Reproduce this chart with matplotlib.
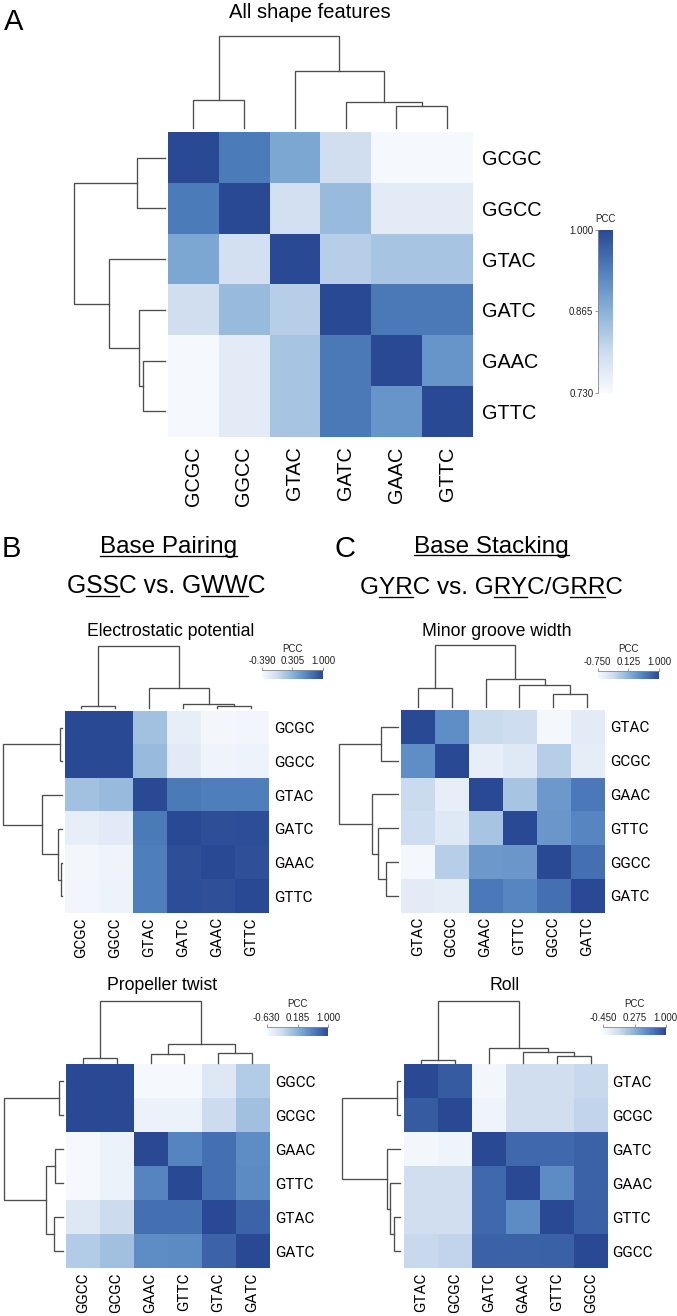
import numpy as np
import matplotlib
matplotlib.use("Agg")
import matplotlib.pyplot as plt
from matplotlib.colors import LinearSegmentedColormap, Normalize
from matplotlib.cm import ScalarMappable
from matplotlib.lines import Line2D

plt.rcParams['font.family'] = ['Liberation Sans', 'DejaVu Sans']

# ------------------------------------------------------------------ data
# Panel A: all shape features
a_labels = ['GCGC', 'GGCC', 'GTAC', 'GATC', 'GAAC', 'GTTC']
a_pcc = [
    [1.000, 0.938, 0.879, 0.792, 0.733, 0.733],
    [0.938, 1.000, 0.789, 0.852, 0.762, 0.762],
    [0.879, 0.789, 1.000, 0.819, 0.835, 0.835],
    [0.792, 0.852, 0.819, 1.000, 0.940, 0.940],
    [0.733, 0.762, 0.835, 0.940, 1.000, 0.905],
    [0.733, 0.762, 0.835, 0.940, 0.905, 1.000],
]
a_range = [0.730, 1.000]
a_merges = [(0, 1, 0.307), (4, 5, 0.245), (3, 7, 0.288), (2, 8, 0.62), (6, 9, 1.0)]

# Panel B: electrostatic potential
ep_labels = ['GCGC', 'GGCC', 'GTAC', 'GATC', 'GAAC', 'GTTC']
ep_pcc = [
    [1.00, 0.99, 0.18, -0.25, -0.36, -0.35],
    [0.99, 1.00, 0.23, -0.21, -0.32, -0.31],
    [0.18, 0.23, 1.00, 0.69, 0.66, 0.66],
    [-0.25, -0.21, 0.69, 1.00, 0.96, 0.97],
    [-0.36, -0.32, 0.66, 0.96, 1.00, 0.95],
    [-0.35, -0.31, 0.66, 0.97, 0.95, 1.00],
]
ep_range = [-0.390, 1.000]
ep_merges = [(0, 1, 0.04), (4, 5, 0.025), (3, 7, 0.07), (2, 8, 0.33), (6, 9, 1.0)]

# Panel B: propeller twist
pt_labels = ['GGCC', 'GCGC', 'GAAC', 'GTTC', 'GTAC', 'GATC']
pt_pcc = [
    [1.00, 0.99, -0.61, -0.61, -0.39, -0.06],
    [0.99, 1.00, -0.52, -0.52, -0.22, 0.04],
    [-0.61, -0.52, 1.00, 0.55, 0.71, 0.49],
    [-0.61, -0.52, 0.55, 1.00, 0.71, 0.50],
    [-0.39, -0.22, 0.71, 0.71, 1.00, 0.80],
    [-0.06, 0.04, 0.49, 0.50, 0.80, 1.00],
]
pt_range = [-0.630, 1.000]
pt_merges = [(0, 1, 0.07), (2, 3, 0.14), (4, 5, 0.15), (7, 8, 0.30), (6, 9, 1.0)]

# Panel C: minor groove width
mgw_labels = ['GTAC', 'GCGC', 'GAAC', 'GTTC', 'GGCC', 'GATC']
mgw_pcc = [
    [1.00, 0.44, -0.30, -0.33, -0.72, -0.54],
    [0.44, 1.00, -0.58, -0.51, -0.17, -0.56],
    [-0.30, -0.58, 1.00, -0.07, 0.35, 0.62],
    [-0.33, -0.51, -0.07, 1.00, 0.36, 0.51],
    [-0.72, -0.17, 0.35, 0.36, 1.00, 0.69],
    [-0.54, -0.56, 0.62, 0.51, 0.69, 1.00],
]
mgw_range = [-0.750, 1.000]
mgw_merges = [(0, 1, 0.30), (4, 5, 0.21), (3, 7, 0.35), (2, 8, 0.45), (6, 9, 1.0)]

# Panel C: roll
roll_labels = ['GTAC', 'GCGC', 'GATC', 'GAAC', 'GTTC', 'GGCC']
roll_pcc = [
    [1.00, 0.88, -0.42, -0.12, -0.12, -0.07],
    [0.88, 1.00, -0.38, -0.12, -0.12, -0.02],
    [-0.42, -0.38, 1.00, 0.78, 0.78, 0.83],
    [-0.12, -0.12, 0.78, 1.00, 0.55, 0.83],
    [-0.12, -0.12, 0.78, 0.55, 1.00, 0.84],
    [-0.07, -0.02, 0.83, 0.83, 0.84, 1.00],
]
roll_range = [-0.450, 1.000]
roll_merges = [(0, 1, 0.043), (4, 5, 0.108), (3, 7, 0.167), (2, 8, 0.23), (6, 9, 1.0)]

# ------------------------------------------------------------------ style
W, H, DPI = 677, 1316, 100
cmap = LinearSegmentedColormap.from_list(
    'pcc', ['#F7FAFE', '#CDDCEF', '#8AB2D9', '#5080BE', '#2A4994'])
DENDRO_COLOR = '#4d4d4d'
NARROW = ['Roboto', 'Liberation Sans', 'DejaVu Sans']
REGULAR = ['Liberation Sans', 'DejaVu Sans']

fig = plt.figure(figsize=(W / DPI, H / DPI), dpi=DPI)


def px_axes(x0, y0, x1, y1):
    return fig.add_axes([x0 / W, 1 - y1 / H, (x1 - x0) / W, (y1 - y0) / H])


def draw_dendro(box, merges, n, orient):
    ax = px_axes(*box)
    pos = [i + 0.5 for i in range(n)]
    hts = [0.0] * n
    for a, b, h in merges:
        xs = [pos[a], pos[a], pos[b], pos[b]]
        ys = [hts[a], h, h, hts[b]]
        if orient == 'top':
            ax.plot(xs, ys, color=DENDRO_COLOR, lw=0.95, clip_on=False,
                    solid_joinstyle='miter')
        else:
            ax.plot(ys, xs, color=DENDRO_COLOR, lw=0.95, clip_on=False,
                    solid_joinstyle='miter')
        pos.append((pos[a] + pos[b]) / 2)
        hts.append(h)
    if orient == 'top':
        ax.set_xlim(0, n)
        ax.set_ylim(0, 1)
    else:
        ax.set_ylim(n, 0)
        ax.set_xlim(1, 0)
    ax.axis('off')


def draw_heatmap(box, mat, labels, vr, fam, size, ypad, xpad):
    ax = px_axes(*box)
    m = np.array(mat)
    n = len(labels)
    ax.imshow(m, cmap=cmap, vmin=vr[0], vmax=vr[1], aspect='auto',
              interpolation='nearest', extent=(0, n, n, 0))
    ax.set_xticks(np.arange(n) + 0.5)
    ax.set_xticklabels(labels, rotation=90, fontsize=size, family=fam)
    ax.yaxis.tick_right()
    ax.set_yticks(np.arange(n) + 0.5)
    ax.set_yticklabels(labels, fontsize=size, family=fam)
    ax.tick_params(axis='y', length=0, pad=ypad)
    ax.tick_params(axis='x', length=0, pad=xpad)
    for s in ax.spines.values():
        s.set_visible(False)
    return ax


def draw_cbar(box, vr, orient, pcc_xy):
    cax = px_axes(*box)
    norm = Normalize(vmin=vr[0], vmax=vr[1])
    sm = ScalarMappable(norm=norm, cmap=cmap)
    ticks = [vr[0], (vr[0] + vr[1]) / 2, vr[1]]
    cb = fig.colorbar(sm, cax=cax, orientation=orient, ticks=ticks)
    cb.outline.set_visible(False)
    cb.set_ticklabels(['%.3f' % t for t in ticks])
    if orient == 'horizontal':
        cax.xaxis.set_ticks_position('top')
        cax.spines['top'].set_visible(True)
        cax.spines['top'].set_color('#8a8a8a')
        cax.spines['top'].set_linewidth(0.6)
        cax.tick_params(axis='x', direction='out', length=2.2, width=0.6,
                        color='#8a8a8a', labelsize=7, pad=0.6,
                        labelcolor='#222222')
    else:
        cax.yaxis.set_ticks_position('left')
        cax.spines['left'].set_visible(True)
        cax.spines['left'].set_color('#8a8a8a')
        cax.spines['left'].set_linewidth(0.6)
        cax.tick_params(axis='y', direction='out', length=2.2, width=0.6,
                        color='#8a8a8a', labelsize=7, pad=1.4,
                        labelcolor='#222222')
    fig.text(pcc_xy[0] / W, 1 - pcc_xy[1] / H, 'PCC', ha='center',
             va='center', fontsize=7, color='#222222')


def text_px(x, y, s, **kw):
    return fig.text(x / W, 1 - y / H, s, **kw)


renderer = fig.canvas.get_renderer()


def text_width(s, size):
    t = fig.text(0, 0, s, fontsize=size, family=REGULAR)
    w = t.get_window_extent(renderer).width
    t.remove()
    return w


def underlined(cx, base_y, s, size, spans):
    text_px(cx, base_y, s, ha='center', va='baseline', fontsize=size,
            family=REGULAR)
    total = text_width(s, size)
    x_left = cx - total / 2
    uy = 1 - (base_y + 2.7) / H
    for i, j in spans:
        x0 = x_left + (text_width(s[:i], size) if i > 0 else 0)
        x1 = x_left + text_width(s[:j], size)
        fig.add_artist(Line2D([x0 / W, x1 / W], [uy, uy],
                              transform=fig.transFigure, color='black',
                              lw=0.95))


# ------------------------------------------------------------------ panel A
text_px(4, 30, 'A', fontsize=21, va='baseline', ha='left')
text_px(310, 17.5, 'All shape features', fontsize=14.5, va='baseline',
        ha='center')
draw_heatmap((167.7, 132.3, 472.7, 436.7), a_pcc, a_labels, a_range,
             REGULAR, 14.3, 6.5, 7.2)
draw_dendro((167.7, 36, 472.7, 128.3), a_merges, 6, 'top')
draw_dendro((74.3, 132.3, 165, 436.7), a_merges, 6, 'left')
draw_cbar((598.3, 230, 612.7, 392.7), a_range, 'vertical', (605.5, 219.3))

# ------------------------------------------------------------------ headers
text_px(2, 557, 'B', fontsize=21, va='baseline', ha='left')
text_px(334.5, 556.7, 'C', fontsize=21, va='baseline', ha='left')
underlined(168.2, 553.3, 'Base Pairing', 17.5, [(0, 12)])
underlined(491.7, 552.7, 'Base Stacking', 17.5, [(0, 13)])
underlined(166.3, 593, 'GSSC vs. GWWC', 17.7, [(1, 3), (10, 12)])
underlined(491.3, 594, 'GYRC vs. GRYC/GRRC', 17.5, [(1, 3), (10, 12), (15, 17)])

# ------------------------------------------------------------------ panel B
text_px(170.8, 636, 'Electrostatic potential', fontsize=12.7,
        va='baseline', ha='center')
draw_heatmap((64.5, 710.7, 268.3, 913.3), ep_pcc, ep_labels, ep_range,
             NARROW, 11.0, 4.2, 2.8)
draw_dendro((64.5, 646, 268.3, 708), ep_merges, 6, 'top')
draw_dendro((2.7, 710.7, 62, 913.3), ep_merges, 6, 'left')
draw_cbar((262, 670, 323, 679.3), ep_range, 'horizontal', (292.5, 649.3))

text_px(161.7, 990, 'Propeller twist', fontsize=12.7, va='baseline',
        ha='center')
draw_heatmap((65.7, 1064.3, 269.3, 1268.3), pt_pcc, pt_labels, pt_range,
             NARROW, 11.0, 4.2, 3.0)
draw_dendro((65.7, 1000.7, 269.3, 1062.5), pt_merges, 6, 'top')
draw_dendro((4, 1064.3, 63.3, 1268.3), pt_merges, 6, 'left')
draw_cbar((266.7, 1026.7, 328.3, 1036), pt_range, 'horizontal', (297.5, 1004))

# ------------------------------------------------------------------ panel C
text_px(497, 636.5, 'Minor groove width', fontsize=12.7, va='baseline',
        ha='center')
draw_heatmap((400.7, 710, 604.3, 912.7), mgw_pcc, mgw_labels, mgw_range,
             NARROW, 11.0, 4.0, 2.8)
draw_dendro((400.7, 645, 604.3, 706.7), mgw_merges, 6, 'top')
draw_dendro((339, 710, 398.3, 912.7), mgw_merges, 6, 'left')
draw_cbar((597.7, 670.7, 659, 679.3), mgw_range, 'horizontal', (628.3, 649))

text_px(504.3, 990, 'Roll', fontsize=12.7, va='baseline', ha='center')
draw_heatmap((404, 1064.3, 607.7, 1268.3), roll_pcc, roll_labels, roll_range,
             NARROW, 11.0, 3.2, 3.0)
draw_dendro((404, 1000.7, 607.7, 1062.7), roll_merges, 6, 'top')
draw_dendro((341.7, 1064.3, 400, 1268.3), roll_merges, 6, 'left')
draw_cbar((603.3, 1026.7, 665.7, 1035.3), roll_range, 'horizontal',
          (634.5, 1004))

fig.savefig('out.png', dpi=DPI)
